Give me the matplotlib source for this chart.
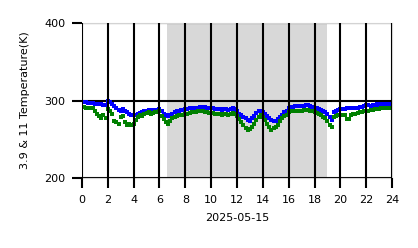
import matplotlib
matplotlib.use('Agg')
import matplotlib.pyplot as plt
import numpy as np

# 10-minute brightness temperatures (K), one row per hour
bt39 = [
    298, 298, 298, 297, 297, 297,
    296, 296, 295, 295, 294, 294,
    299, 298, 296, 293, 290, 288,
    286, 289, 287, 285, 283, 282,
    281, 282, 283, 284, 285, 287,
    287, 288, 288, 287, 288, 288,
    289, 286, 283, 281, 280, 282,
    283, 285, 286, 287, 288, 288,
    289, 289, 290, 290, 291, 291,
    291, 292, 292, 292, 291, 291,
    290, 290, 289, 289, 289, 288,
    289, 289, 288, 289, 290, 289,
    286, 283, 281, 279, 277, 275,
    274, 277, 280, 284, 287, 287,
    285, 283, 280, 277, 275, 273,
    274, 276, 279, 282, 285, 287,
    290, 292, 292, 293, 293, 293,
    293, 293, 294, 294, 293, 292,
    291, 290, 289, 288, 286, 285,
    283, 279, 275, 285, 287, 288,
    289, 289, 289, 290, 290, 290,
    290, 291, 291, 292, 292, 293,
    294, 294, 293, 294, 294, 295,
    294, 295, 295, 296, 296, 296,
]
bt11 = [
    292, 292, 291, 291, 290, 290,
    287, 283, 280, 278, 281, 277,
    289, 286, 283, 274, 272, 270,
    279, 280, 272, 269, 270, 268,
    270, 275, 279, 282, 280, 283,
    284, 285, 283, 284, 285, 285,
    286, 280, 276, 272, 270, 273,
    277, 279, 280, 281, 282, 282,
    283, 283, 284, 285, 285, 285,
    286, 286, 286, 285, 285, 284,
    284, 284, 283, 283, 283, 282,
    283, 283, 282, 283, 284, 283,
    280, 276, 272, 268, 265, 262,
    263, 266, 270, 275, 279, 281,
    279, 275, 270, 266, 262, 264,
    266, 269, 273, 277, 280, 282,
    285, 286, 287, 287, 287, 287,
    287, 288, 288, 288, 287, 286,
    285, 284, 283, 281, 279, 277,
    273, 269, 266, 279, 280, 281,
    282, 282, 281, 276, 276, 282,
    283, 283, 284, 285, 285, 286,
    287, 287, 288, 288, 289, 289,
    289, 290, 290, 290, 291, 291,
]
hours = np.arange(len(bt39)) / 6.0
daylight = (6.55, 18.95)
xticks = list(range(0, 25, 2))
yticks = [200, 300, 400]

fig = plt.figure(figsize=(4.18, 2.48), dpi=100)
ax = fig.add_axes([0.196, 0.282, 0.742, 0.625])

ax.axvspan(daylight[0], daylight[1], color='gray', alpha=0.3, lw=0, zorder=0.5)
for yv in yticks:
    ax.axhline(yv, color='black', lw=1.5, zorder=0.8)

ax.scatter(hours, bt39, marker='s', s=10, color='blue', lw=0, zorder=1)
ax.scatter(hours, bt11, marker='s', s=10, color='green', lw=0, zorder=1.1)

ax.set_xlim(0, 24)
ax.set_ylim(200, 400)
ax.set_xticks(xticks)
ax.set_yticks(yticks)
ax.grid(axis='x', color='black', lw=1.5)
ax.set_axisbelow(False)
ax.tick_params(length=7, width=1.5, labelsize=8, pad=5)
for s in ax.spines.values():
    s.set_color('lightgray')
    s.set_linewidth(0.8)

ax.set_xlabel('2025-05-15', fontsize=8, labelpad=6)
ax.set_ylabel('3.9 & 11 Temperature(K)', fontsize=8, labelpad=10)

fig.savefig('out.png', dpi=100)
